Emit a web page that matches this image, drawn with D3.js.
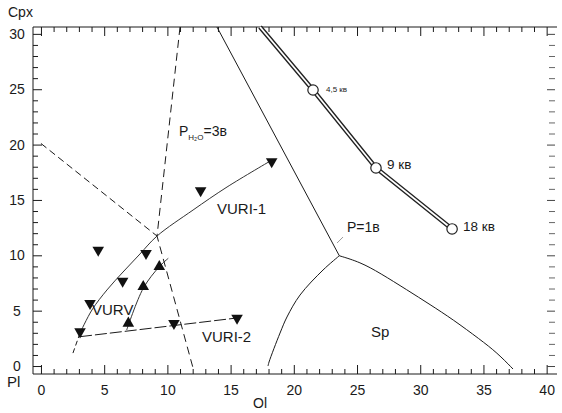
<!DOCTYPE html>
<html><head><meta charset="utf-8">
<script src="https://cdn.jsdelivr.net/npm/d3@7"></script>
<style>body{margin:0;background:#fff}svg{display:block;font-family:"Liberation Sans",Arial,sans-serif}</style>
</head><body><svg id="c" width="562" height="413"></svg>
<script>
// ---- data ----
const xTickValues = [0, 5, 10, 15, 20, 25, 30, 35, 40];
const yTickValues = [0, 5, 10, 15, 20, 25, 30];
const downTriangles = [[4.53,10.48],[8.31,10.18],[6.46,7.68],[3.88,5.66],[3.09,3.10],[10.52,3.86],[15.51,4.34],[12.63,15.84],[18.25,18.46]];
const upTriangles = [[9.36,8.97],[8.09,7.16],[6.91,3.86]];
const cotecticA = [[0,20.1],[9.18,11.74]];
const cotecticB = [[11.0,30.62],[9.18,11.74],[12.0,-0.06]];
const vuri1Line = [[3.09,2.98],[4.03,5.06],[5.22,6.87],[6.49,8.49],[7.83,10.12],[9.18,11.74],[12.03,14.09],[14.72,16.17],[18.28,18.61]];
const vuri1Tail = [[2.53,1.17],[3.09,2.98]];
const vurvLine = [[6.78,3.25],[8.09,7.02],[9.36,8.97],[10.07,9.73]];
const vuri2Line = [[3.09,2.65],[15.51,4.34]];
const p1Line = [[13.92,30.62],[23.6,9.96]];
const p1Pointer = [[23.42,11.11],[23.89,11.65]];
const spLeft = [[23.6,9.96],[22.31,8.67],[20.49,6.41],[19.46,4.43],[18.91,2.98],[18.04,0.36],[17.96,0.0]];
const spRight = [[23.6,9.96],[25.24,9.39],[26.82,8.40],[28.96,6.87],[30.78,5.55],[32.59,4.2],[34.73,2.4],[36.08,1.2],[37.34,-0.27]];
const pressureLine = [[17.33,30.62],[21.52,24.93],[26.5,17.89],[32.52,12.38]];
const pressurePoints = [[21.52,24.93],[26.5,17.89],[32.52,12.38]];
const pressureLabels = ["4,5 кв", "9 кв", "18 кв"];

// ---- layout ----
const svg = d3.select("#c");
const x = d3.scaleLinear().domain([-0.63, 40.66]).range([33, 555]);
const y = d3.scaleLinear().domain([-0.72, 30.62]).range([374, 27]);
const ink = "#1a1a1a";

const line = d3.line().x(d => x(d[0])).y(d => y(d[1]));
const curve = d3.line().x(d => x(d[0])).y(d => y(d[1])).curve(d3.curveCatmullRom.alpha(0.5));
const smooth = d3.line().x(d => x(d[0])).y(d => y(d[1])).curve(d3.curveBasis);

// frame lines
svg.append("line").attr("x1",33).attr("x2",557).attr("y1",374).attr("y2",374).attr("stroke",ink);
svg.append("line").attr("x1",33).attr("x2",557).attr("y1",27).attr("y2",27).attr("stroke",ink);
svg.append("line").attr("x1",33).attr("x2",33).attr("y1",27).attr("y2",374).attr("stroke",ink);

const minorX = d3.range(0, 41, 1).filter(v => v % 5 !== 0);
const minorY = d3.range(0, 31, 1).filter(v => v % 5 !== 0);

function styleAxis(g){ g.select(".domain").remove(); g.selectAll(".tick line").attr("stroke", ink); }

// bottom
svg.append("g").attr("transform","translate(0,374)")
  .call(d3.axisBottom(x).tickValues(minorX).tickSize(-5).tickFormat("")).call(styleAxis);
const gb = svg.append("g").attr("transform","translate(0,374)")
  .call(d3.axisBottom(x).tickValues(xTickValues).tickSize(-9).tickPadding(11).tickFormat(d3.format("d"))).call(styleAxis);
gb.selectAll("text").attr("font-size",14).attr("fill",ink).attr("font-family","Liberation Sans, Arial, sans-serif");
// top
svg.append("g").attr("transform","translate(0,27)")
  .call(d3.axisTop(x).tickValues(minorX).tickSize(-5).tickFormat("")).call(styleAxis);
svg.append("g").attr("transform","translate(0,27)")
  .call(d3.axisTop(x).tickValues(xTickValues).tickSize(-9).tickFormat("")).call(styleAxis);
// left
svg.append("g").attr("transform","translate(33,0)")
  .call(d3.axisLeft(y).tickValues(minorY).tickSize(-5).tickFormat("")).call(styleAxis);
const gl = svg.append("g").attr("transform","translate(33,0)")
  .call(d3.axisLeft(y).tickValues(yTickValues).tickSize(-9).tickFormat(d3.format("d"))).call(styleAxis);
gl.selectAll("text").attr("x",-16).attr("text-anchor","middle").attr("font-size",14).attr("fill",ink)
  .attr("font-family","Liberation Sans, Arial, sans-serif");
// right (ticks only)
const gr1 = svg.append("g").attr("transform","translate(555,0)")
  .call(d3.axisRight(y).tickValues(minorY).tickSize(-6).tickFormat("")).call(styleAxis);
const gr2 = svg.append("g").attr("transform","translate(555,0)")
  .call(d3.axisRight(y).tickValues(yTickValues).tickSize(-8).tickFormat("")).call(styleAxis);
gr1.selectAll(".tick line").attr("stroke","#666");
gr2.selectAll(".tick line").attr("stroke","#444");

// axis titles
svg.append("text").attr("x",8).attr("y",17).attr("font-size",14).attr("fill",ink).text("Cpx");
svg.append("text").attr("x",7).attr("y",387).attr("font-size",15).attr("fill",ink).text("Pl");
svg.append("text").attr("x",253).attr("y",408).attr("font-size",14).attr("fill",ink).text("Ol");

// ---- boundaries ----
const g = svg.append("g").attr("fill","none").attr("stroke",ink).attr("stroke-width",1);
g.append("path").attr("d", line(cotecticA)).attr("stroke-dasharray","7,4");
g.append("path").attr("d", line(cotecticB)).attr("stroke-dasharray","8,5");
g.append("path").attr("d", curve(vuri1Line)).attr("stroke","#333");
g.append("path").attr("d", line(vuri1Tail)).attr("stroke-dasharray","5,3");
g.append("path").attr("d", curve(vurvLine)).attr("stroke","#333");
g.append("path").attr("d", line(vuri2Line)).attr("stroke-dasharray","12,3");
g.append("path").attr("d", line(p1Line));
g.append("path").attr("d", line(p1Pointer)).attr("stroke","#999");
g.append("path").attr("d", curve(spLeft));
g.append("path").attr("d", smooth(spRight));

// pressure trend (double line)
g.append("path").attr("d", line(pressureLine)).attr("stroke","#222").attr("stroke-width",4.5);
g.append("path").attr("d", line(pressureLine)).attr("stroke","#fff").attr("stroke-width",1.8);
svg.selectAll("circle.p").data(pressurePoints).join("circle").attr("class","p")
  .attr("cx", d => x(d[0])).attr("cy", d => y(d[1])).attr("r",5.2)
  .attr("fill","#fff").attr("stroke","#222").attr("stroke-width",1.2);
const pOff = [[13,2,8],[11,1,13.5],[11,2,13.5]];
svg.selectAll("text.pl").data(pressurePoints).join("text").attr("class","pl")
  .attr("x",(d,i) => x(d[0]) + pOff[i][0]).attr("y",(d,i) => y(d[1]) + pOff[i][1])
  .attr("font-size",(d,i) => pOff[i][2]).attr("fill",ink).text((d,i) => pressureLabels[i]);

// markers
const tri = d3.symbol().type(d3.symbolTriangle).size(58);
svg.selectAll("path.dn").data(downTriangles).join("path").attr("class","dn")
  .attr("d", tri).attr("fill","#111")
  .attr("transform", d => `translate(${x(d[0])},${y(d[1])}) rotate(180)`);
svg.selectAll("path.up").data(upTriangles).join("path").attr("class","up")
  .attr("d", tri).attr("fill","#111")
  .attr("transform", d => `translate(${x(d[0])},${y(d[1])})`);

// field labels
const lab = (tx, ty, s, fs) => svg.append("text").attr("x",tx).attr("y",ty).attr("font-size",fs||15).attr("fill",ink).text(s);
lab(217, 214, "VURI-1");
lab(92, 315, "VURV");
lab(202, 342, "VURI-2");
lab(371, 337, "Sp");
lab(347, 232, "P=1в", 14);
const ph = svg.append("text").attr("x",179).attr("y",136).attr("font-size",14).attr("fill",ink);
ph.append("tspan").text("P");
ph.append("tspan").attr("font-size",8).attr("dy",4).text("H₂O");
ph.append("tspan").attr("dy",-4).text("=3в");
</script></body></html>
